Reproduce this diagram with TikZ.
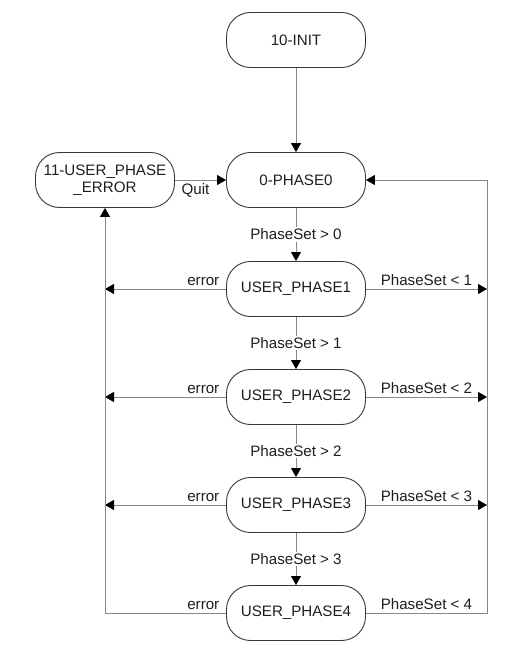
\documentclass[tikz,border=0pt]{standalone}
\usepackage{fontspec}
\setmainfont{Liberation Sans}
\usetikzlibrary{arrows.meta,calc,positioning}
\usepackage{xcolor}
\definecolor{wireg}{RGB}{135,135,135}
\definecolor{boxg}{RGB}{55,55,55}
\definecolor{txtg}{RGB}{30,30,30}

\tikzset{
  state/.style = {draw=boxg, line width=.9bp, rounded corners=24bp, minimum width=139bp, minimum height=55bp, inner sep=0pt, align=center, text=txtg},
  wire/.style = {draw=wireg, line width=.9bp, -{Triangle[length=9bp, width=10bp, color=black]}},
  cond/.style = {fill=white, inner sep=1.5bp, text=txtg},
  tag/.style = {text=txtg}
}

\begin{document}
\begin{tikzpicture}[x=1bp, y=-1bp, font=\fontsize{15.2}{16.5}\selectfont]

\useasboundingbox (0,0) rectangle (527,655);

\node[state] (init) at (296,40) {10-INIT};
\node[state] (ph0) at (296,180) {0-PHASE0};
\node[state] (err) at (105,180) {11-USER\_PHASE\\\_ERROR};

\foreach \i/\y in {1/289, 2/397, 3/505, 4/613}
  \node[state] (ph\i) at (296,\y) {USER\_PHASE\i};

\coordinate (lbus) at (105,613);
\coordinate (rbus) at (487,613);

\draw[wire] (init) -- (ph0);
\draw[wire] (err) -- node[tag, below, xshift=-5bp] {Quit} (ph0);

\foreach \i [evaluate=\i as \j using int(\i-1)] in {1,...,4}
  \draw[wire] (ph\j) -- node[cond] {PhaseSet > \j} (ph\i);

\foreach \i in {1,2,3} {
  \draw[wire] (ph\i) -- node[tag, pos=0, above left, xshift=-3bp] {error} (ph\i -| lbus);
  \draw[wire] (ph\i) -- node[tag, above] {PhaseSet < \i} (ph\i -| rbus);
}

\draw[wire] (ph4.west) -- node[tag, pos=0, above left, xshift=-3bp] {error} (lbus) -- (err.south);
\draw[wire] (ph4.east) -- node[tag, above] {PhaseSet < 4} (rbus) |- (ph0.east);

\end{tikzpicture}
\end{document}
